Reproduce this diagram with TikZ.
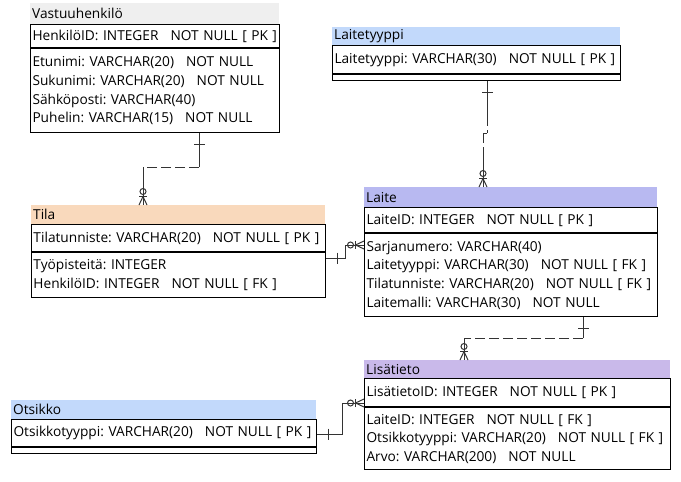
\documentclass[tikz,border=0pt]{standalone}
\usepackage{fontspec}
\setmainfont{Open Sans}
\frenchspacing
\definecolor{cgray}{HTML}{EFEFEF}
\definecolor{cblue}{HTML}{C2D9FB}
\definecolor{cpeach}{HTML}{F9D9BC}
\definecolor{claite}{HTML}{B8B9F1}
\definecolor{clisa}{HTML}{C9B9EA}
\definecolor{cline}{HTML}{333333}
\newcommand{\gap}{\hspace{12pt}}
\newcommand{\bgap}{\hspace{4.5pt}}
\newcommand{\kpk}{[\hspace{4.5pt}PK\hspace{4.5pt}]}
\newcommand{\kfk}{[\hspace{4.5pt}FK\hspace{4.5pt}]}
\begin{document}
\begin{tikzpicture}[x=1pt,y=1pt,
  every node/.style={font=\fontsize{13.7}{18.7}\selectfont\frenchspacing, inner xsep=2pt, inner ysep=0pt, align=left, anchor=north west},
  hdr/.style={draw=none},
  bx/.style={draw=black, line width=1pt},
  conn/.style={draw=cline, line width=1pt},
  dsh/.style={conn, dash pattern=on 10pt off 4pt},
  one/.pic={\draw[conn] (-5.5,11) -- (5.5,11);},
  zeromany/.pic={\draw[conn] (0,13.5) circle (3);
    \draw[conn] (-4,9) -- (4,9);
    \draw[conn] (-4,0) -- (0,8.5) -- (4,0);}
]
\useasboundingbox (0,0) rectangle (681,-482);

% Vastuuhenkilo
\node[hdr, fill=cgray, text width=245pt, minimum height=21pt] (vh) at (30,-3) {Vastuuhenkilö};
\node[bx, text width=245pt, minimum height=23pt] (vpk) at (vh.south west) {HenkilöID: INTEGER\gap NOT NULL\bgap\kpk};
\node[bx, text width=245pt, minimum height=84pt] (va) at (vpk.south west) {Etunimi: VARCHAR(20)\gap NOT NULL\\Sukunimi: VARCHAR(20)\gap NOT NULL\\Sähköposti: VARCHAR(40)\\Puhelin: VARCHAR(15)\gap NOT NULL};

% Laitetyyppi
\node[hdr, fill=cblue, text width=284pt, minimum height=18pt] (lth) at (332,-27) {Laitetyyppi};
\node[bx, text width=284pt, minimum height=28pt] (ltpk) at (lth.south west) {Laitetyyppi: VARCHAR(30)\gap NOT NULL\bgap\kpk};
\node[bx, text width=284pt, minimum height=6pt] (lta) at (ltpk.south west) {};

% Tila
\node[hdr, fill=cpeach, text width=290pt, minimum height=19pt] (th) at (31,-205) {Tila};
\node[bx, text width=290pt, minimum height=27pt] (tpk) at (th.south west) {Tilatunniste: VARCHAR(20)\gap NOT NULL\bgap\kpk};
\node[bx, text width=290pt, minimum height=45pt] (ta) at (tpk.south west) {Työpisteitä: INTEGER\\HenkilöID: INTEGER\gap NOT NULL\bgap\kfk};

% Laite
\node[hdr, fill=claite, text width=289pt, minimum height=20pt] (lh) at (364,-187) {Laite};
\node[bx, text width=289pt, minimum height=25pt] (lpk) at (lh.south west) {LaiteID: INTEGER\gap NOT NULL\bgap\kpk};
\node[bx, text width=289pt, minimum height=83pt] (la) at (lpk.south west) {Sarjanumero: VARCHAR(40)\\Laitetyyppi: VARCHAR(30)\gap NOT NULL\bgap\kfk\\Tilatunniste: VARCHAR(20)\gap NOT NULL\bgap\kfk\\Laitemalli: VARCHAR(30)\gap NOT NULL};

% Lisatieto
\node[hdr, fill=clisa, text width=302pt, minimum height=18pt] (lih) at (364,-360) {Lisätieto};
\node[bx, text width=302pt, minimum height=28pt] (lipk) at (lih.south west) {LisätietoID: INTEGER\gap NOT NULL\bgap\kpk};
\node[bx, text width=302pt, minimum height=62pt] (lia) at (lipk.south west) {LaiteID: INTEGER\gap NOT NULL\bgap\kfk\\Otsikkotyyppi: VARCHAR(20)\gap NOT NULL\bgap\kfk\\Arvo: VARCHAR(200)\gap NOT NULL};

% Otsikko
\node[hdr, fill=cblue, text width=301pt, minimum height=19pt] (oh) at (11,-400) {Otsikko};
\node[bx, text width=301pt, minimum height=27pt] (opk) at (oh.south west) {Otsikkotyyppi: VARCHAR(20)\gap NOT NULL\bgap\kpk};
\node[bx, text width=301pt, minimum height=6pt] (oa) at (opk.south west) {};

% Vastuuhenkilo -> Tila
\coordinate (a1) at (199,-167);
\coordinate (a2) at (143,-167);
\draw[conn] (va.south -| a1) -- (a1);
\draw[dsh] (a1) -- (a2);
\draw[conn] (a2) -- (a2 |- th.north);
\pic[rotate=180] at (va.south -| a1) {one};
\pic at (a2 |- th.north) {zeromany};

% Tila -> Laite
\coordinate (b1) at (345,-258);
\coordinate (b2) at (345,-245);
\draw[conn] (ta.east |- b1) -- (b1) -- (b2) -- (la.west |- b2);
\pic[rotate=-90] at (ta.east |- b1) {one};
\pic[rotate=90] at (la.west |- b2) {zeromany};

% Laitetyyppi -> Laite
\coordinate (c0) at (487,-116);
\coordinate (c1) at (487,-133);
\coordinate (c2) at (483,-133);
\coordinate (c3) at (483,-152);
\draw[conn] (lta.south -| c0) -- (c0);
\draw[conn, dash pattern=on 10pt off 4pt] (c0) -- (c1);
\draw[conn] (c1) -- (c2);
\draw[conn, dash pattern=on 10pt off 4pt] (c2) -- (c3);
\draw[conn] (c3) -- (c3 |- lh.north);
\pic[rotate=180] at (lta.south -| c0) {one};
\pic at (c3 |- lh.north) {zeromany};

% Laite -> Lisatieto
\coordinate (d1) at (583,-338);
\coordinate (d2) at (464,-338);
\draw[conn] (la.south -| d1) -- (d1);
\draw[dsh] (d1) -- (d2);
\draw[conn] (d2) -- (d2 |- lih.north);
\pic[rotate=180] at (la.south -| d1) {one};
\pic at (d2 |- lih.north) {zeromany};

% Otsikko -> Lisatieto
\coordinate (e1) at (342,-434);
\coordinate (e2) at (342,-403);
\draw[conn] (opk.east |- e1) -- (e1) -- (e2) -- (lipk.west |- e2);
\pic[rotate=-90] at (opk.east |- e1) {one};
\pic[rotate=90] at (lipk.west |- e2) {zeromany};
\end{tikzpicture}
\end{document}
